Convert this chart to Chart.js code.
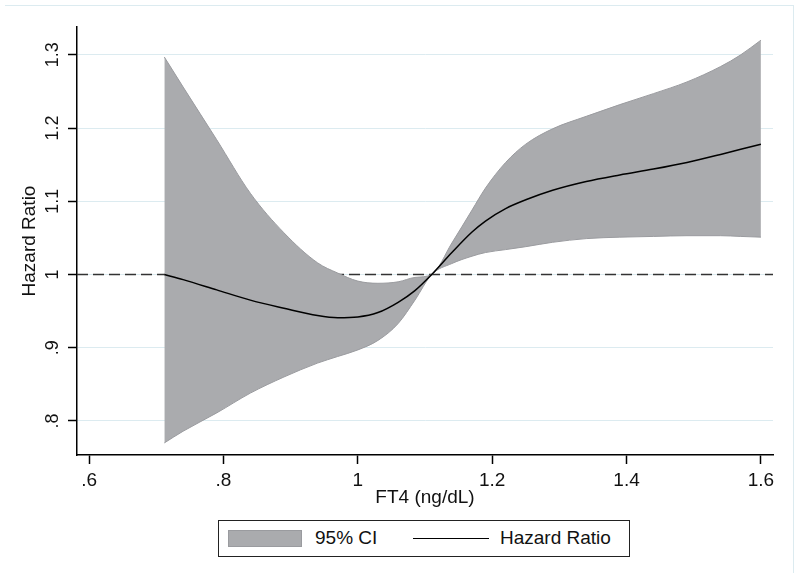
<!DOCTYPE html>
<html>
<head>
<meta charset="utf-8">
<title>Hazard Ratio vs FT4</title>
<script src="https://cdn.jsdelivr.net/npm/chart.js@4.4.1/dist/chart.umd.min.js"></script>
<style>
  html, body { margin: 0; padding: 0; background: #fff; }
  #wrap { position: relative; width: 800px; height: 573px; overflow: hidden; }
  #frame {
    position: absolute; left: 5px; top: 5px; width: 788px; height: 580px;
    border-top: 1px solid #dcebf0; border-right: 1px solid #dcebf0;
  }
  #hrChart { position: absolute; left: 0; top: 0; }
  #legend {
    position: absolute; left: 218px; top: 520px; width: 410px; height: 35px;
    border: 1px solid #222; background: #fff;
    font-family: "Liberation Sans", Arial, sans-serif; font-size: 19px; color: #111;
  }
  #legend .swatch {
    position: absolute; left: 9px; top: 9px; width: 74px; height: 17px;
    background: #aaabae; border: 1px solid #9a9b9f; box-sizing: border-box;
  }
  #legend .line {
    position: absolute; left: 194px; top: 17px; width: 76px; height: 0;
    border-top: 1.5px solid #000;
  }
  #legend .lbl { position: absolute; top: 6px; line-height: 22px; }
</style>
</head>
<body>
<div id="wrap">
  <div id="frame"></div>
  <canvas id="hrChart" width="800" height="573"></canvas>
  <div id="legend"></div>
</div>

<script>
"use strict";

// ── Data ──────────────────────────────────────────────────
const ft4      = [0.712, 0.74, 0.79, 0.84, 0.89, 0.94, 0.97, 1.00, 1.03, 1.06, 1.085, 1.11,
                  1.14, 1.17, 1.19, 1.22, 1.25, 1.29, 1.34, 1.39, 1.44, 1.49, 1.54, 1.57, 1.60];
const hrLine   = [1.000, 0.993, 0.979, 0.965, 0.954, 0.944, 0.941, 0.942, 0.948, 0.962, 0.978, 1.000,
                  1.030, 1.058, 1.073, 1.090, 1.102, 1.115, 1.127, 1.136, 1.144, 1.153, 1.164, 1.171, 1.178];
const ciUpper  = [1.297, 1.256, 1.184, 1.111, 1.057, 1.016, 1.002, 0.991, 0.988, 0.990, 0.996, 1.000,
                  1.043, 1.088, 1.118, 1.153, 1.178, 1.199, 1.216, 1.232, 1.247, 1.263, 1.284, 1.300, 1.320];
const ciLower  = [0.770, 0.786, 0.811, 0.838, 0.860, 0.879, 0.888, 0.897, 0.910, 0.933, 0.965, 1.000,
                  1.015, 1.025, 1.030, 1.034, 1.038, 1.044, 1.049, 1.051, 1.052, 1.053, 1.053, 1.052, 1.051];

const refLineX = [0.582, 1.618];
const refLineY = [1, 1];

const xTickValues = [0.6, 0.8, 1.0, 1.2, 1.4, 1.6];
const xTickLabels = [".6", ".8", "1", "1.2", "1.4", "1.6"];
const yTickValues = [0.8, 0.9, 1.0, 1.1, 1.2, 1.3];
const yTickLabels = [".8", ".9", "1", "1.1", "1.2", "1.3"];

const legendItems = [
  { label: "95% CI",       kind: "swatch", textLeft: 96 },
  { label: "Hazard Ratio", kind: "line",   textLeft: 281 },
];

// ── Helpers ───────────────────────────────────────────────
const pts = (xs, ys) => xs.map((x, i) => ({ x, y: ys[i] }));

const FONT   = "'Liberation Sans', Arial, sans-serif";
const INK    = "#111";
const BAND   = "#aaabae";
const EDGE   = "#9a9b9f";
const GRID   = "#dcebf0";

// ── Chart ─────────────────────────────────────────────────
const ctx = document.getElementById("hrChart").getContext("2d");

new Chart(ctx, {
  type: "line",
  data: {
    datasets: [
      {
        label: "ref",
        data: pts(refLineX, refLineY),
        borderColor: "#333",
        borderWidth: 1.6,
        borderDash: [11, 5],
        pointRadius: 0,
        fill: false,
        order: 4,
      },
      {
        label: "95% CI",
        data: pts(ft4, ciUpper),
        borderColor: EDGE,
        borderWidth: 1,
        backgroundColor: BAND,
        pointRadius: 0,
        cubicInterpolationMode: "monotone",
        fill: "+1",
        order: 3,
      },
      {
        label: "95% CI lower",
        data: pts(ft4, ciLower),
        borderColor: EDGE,
        borderWidth: 1,
        pointRadius: 0,
        cubicInterpolationMode: "monotone",
        fill: false,
        order: 2,
      },
      {
        label: "Hazard Ratio",
        data: pts(ft4, hrLine),
        borderColor: "#000",
        borderWidth: 1.5,
        pointRadius: 0,
        cubicInterpolationMode: "monotone",
        fill: false,
        order: 1,
      },
    ],
  },
  options: {
    responsive: false,
    animation: false,
    devicePixelRatio: 1,
    layout: { padding: { left: 10, top: 27, right: 27, bottom: 0 } },
    plugins: {
      legend:  { display: false },
      tooltip: { enabled: false },
    },
    scales: {
      x: {
        type: "linear",
        min: 0.582,
        max: 1.618,
        afterBuildTicks: axis => { axis.ticks = xTickValues.map(v => ({ value: v })); },
        afterFit: axis => { axis.height = 118; },
        grid:   { drawOnChartArea: false, tickLength: 9, tickColor: "#000", tickWidth: 1.5 },
        border: { color: "#000", width: 1.5 },
        ticks: {
          color: INK,
          padding: 5,
          maxRotation: 0,
          font: { family: FONT, size: 19 },
          callback: (v, i) => xTickLabels[i],
        },
        title: {
          display: true,
          text: "FT4 (ng/dL)",
          color: INK,
          font: { family: FONT, size: 19 },
          padding: { top: 0, bottom: 64 },
        },
      },
      y: {
        type: "linear",
        min: 0.7535,
        max: 1.338,
        afterBuildTicks: axis => { axis.ticks = yTickValues.map(v => ({ value: v })); },
        afterFit: axis => { axis.width = 67; },
        grid:   { color: GRID, lineWidth: 1, tickLength: 9, tickColor: "#000", tickWidth: 1.5 },
        border: { color: "#000", width: 1.5 },
        ticks: {
          color: INK,
          padding: 2,
          minRotation: 90,
          maxRotation: 90,
          crossAlign: "center",
          font: { family: FONT, size: 18 },
          callback: (v, i) => yTickLabels[i],
        },
        title: {
          display: true,
          text: "Hazard Ratio",
          color: INK,
          font: { family: FONT, size: 19 },
          padding: { top: 8, bottom: 0 },
        },
      },
    },
  },
});

// ── Legend (boxed, Stata style) ───────────────────────────
const legendEl = document.getElementById("legend");
legendItems.forEach(item => {
  const mark = document.createElement("div");
  mark.className = item.kind;
  legendEl.appendChild(mark);

  const txt = document.createElement("span");
  txt.className = "lbl";
  txt.style.left = item.textLeft + "px";
  txt.textContent = item.label;
  legendEl.appendChild(txt);
});
</script>
</body>
</html>
